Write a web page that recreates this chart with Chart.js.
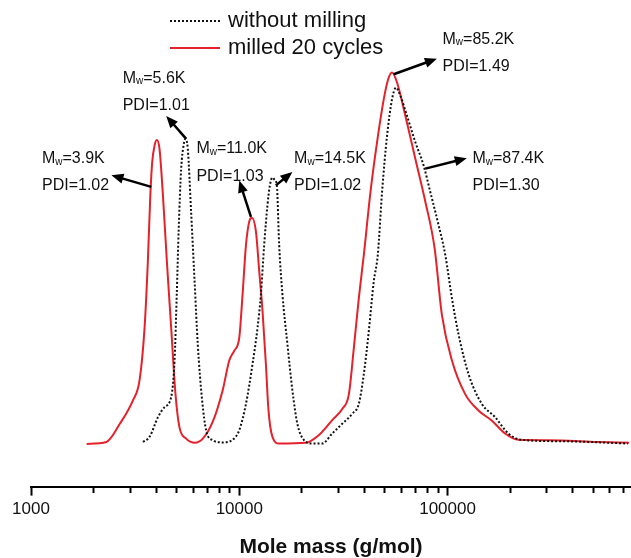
<!DOCTYPE html>
<html>
<head>
<meta charset="utf-8">
<script src="https://cdn.jsdelivr.net/npm/chart.js@4.4.1/dist/chart.umd.min.js"></script>
<style>
  html, body { margin: 0; padding: 0; background: #fff; }
</style>
</head>
<body>
<canvas id="chart" width="631" height="558"></canvas>
<script>
// GPC traces, mole mass (g/mol) vs normalised detector signal
const massMilled = [1850, 2300, 2670, 3090, 3320, 3510, 3640, 3740, 3820, 3920,
  4020, 4140, 4300, 4490, 4710, 4940, 5160, 5560, 6120, 6680,
  7450, 8320, 8960, 9470, 10000, 10370, 10770, 11170, 11500, 12020,
  12470, 12930, 13420, 13810, 14430, 15540, 20850, 24140, 27950, 31210,
  33600, 35500, 37510, 39630, 42670, 45890, 49410, 51820, 54140, 57220,
  62750, 70060, 78230, 86660, 93910, 104900, 121500, 140700, 162900, 188900,
  218700, 304200, 527800, 742800]
const signalMilled = [0.000, 0.005, 0.054, 0.118, 0.171, 0.313, 0.492, 0.669, 0.759, 0.803,
  0.818, 0.794, 0.669, 0.492, 0.313, 0.134, 0.045, 0.014, 0.003, 0.014,
  0.059, 0.144, 0.225, 0.251, 0.286, 0.402, 0.536, 0.599, 0.609, 0.572,
  0.465, 0.358, 0.215, 0.091, 0.019, 0.001, 0.003, 0.024, 0.064, 0.094,
  0.134, 0.259, 0.393, 0.509, 0.679, 0.813, 0.928, 0.981, 1.000, 0.973,
  0.883, 0.767, 0.652, 0.527, 0.348, 0.225, 0.134, 0.090, 0.063, 0.028,
  0.011, 0.010, 0.005, 0.003]

const massRaw = [3450, 3710, 4070, 4380, 4710, 4890, 5010, 5120, 5260, 5400,
  5520, 5660, 5870, 6090, 6320, 6630, 6930, 7450, 8320, 9290,
  10000, 10770, 11580, 12240, 12700, 13170, 13660, 14030, 14430, 14790,
  15150, 15540, 16120, 17030, 17990, 19010, 20460, 22420, 25040, 27950,
  31210, 34850, 37510, 39630, 41880, 44250, 46250, 48480, 51240, 54140,
  56560, 59380, 63880, 70060, 76790, 82640, 90560, 97500, 104900, 112900,
  126100, 145900, 169100, 195800, 226700, 365800, 734600]
const signalRaw = [0.005, 0.019, 0.072, 0.099, 0.126, 0.225, 0.402, 0.580, 0.741, 0.803,
  0.821, 0.794, 0.626, 0.447, 0.268, 0.118, 0.037, 0.010, 0.004, 0.011,
  0.037, 0.108, 0.215, 0.313, 0.402, 0.536, 0.643, 0.696, 0.717, 0.711,
  0.696, 0.536, 0.402, 0.268, 0.144, 0.054, 0.010, 0.001, 0.001, 0.028,
  0.054, 0.081, 0.108, 0.188, 0.304, 0.438, 0.509, 0.678, 0.830, 0.928,
  0.959, 0.937, 0.883, 0.812, 0.749, 0.678, 0.589, 0.509, 0.393, 0.295,
  0.188, 0.108, 0.072, 0.028, 0.011, 0.007, 0.001]

const seriesNames = ['without milling', 'milled 20 cycles']
const labelledTicks = [1000, 10000, 100000]

// peak notes: arrow tail/head and text anchor, in data units [mass, signal]
const peakNotes = [
  { mw: '3.9K',  pdi: '1.02', from: [3780, 0.692],  to: [2433, 0.723],   at: [1129, 0.767, 0.695] },
  { mw: '5.6K',  pdi: '1.01', from: [5559, 0.821],  to: [4461, 0.883],   at: [2755, 0.984, 0.912] },
  { mw: '11.0K', pdi: '1.03', from: [11376, 0.611], to: [10000, 0.709],  at: [6227, 0.794, 0.719] },
  { mw: '14.5K', pdi: '1.02', from: [14985, 0.696], to: [17990, 0.732],  at: [18335, 0.767, 0.695] },
  { mw: '85.2K', pdi: '1.49', from: [55150, 0.995], to: [88890, 1.037],  at: [94620, 1.088, 1.016] },
  { mw: '87.4K', pdi: '1.30', from: [78230, 0.741], to: [123700, 0.769], at: [131700, 0.767, 0.695] }
]

const FONT = '"Liberation Sans", Arial, sans-serif'
const RED = '#e3222b'
const BLACK = '#111'

const toPoints = (xs, ys) => xs.map((x, i) => ({ x, y: ys[i] }))

const isPow10 = v => Math.abs(Math.log10(v) - Math.round(Math.log10(v))) < 1e-9

function drawArrow(ctx, x1, y1, x2, y2) {
  const a = Math.atan2(y2 - y1, x2 - x1)
  const hl = 12, hw = 5
  ctx.save()
  ctx.strokeStyle = '#000'
  ctx.fillStyle = '#000'
  ctx.lineWidth = 2.5
  ctx.beginPath()
  ctx.moveTo(x1, y1)
  ctx.lineTo(x2 - hl * 0.7 * Math.cos(a), y2 - hl * 0.7 * Math.sin(a))
  ctx.stroke()
  ctx.beginPath()
  ctx.moveTo(x2, y2)
  ctx.lineTo(x2 - hl * Math.cos(a) + hw * Math.sin(a), y2 - hl * Math.sin(a) - hw * Math.cos(a))
  ctx.lineTo(x2 - hl * Math.cos(a) - hw * Math.sin(a), y2 - hl * Math.sin(a) + hw * Math.cos(a))
  ctx.closePath()
  ctx.fill()
  ctx.restore()
}

function drawMw(ctx, x, y, val) {
  ctx.font = '16px ' + FONT
  ctx.fillText('M', x, y)
  let w = ctx.measureText('M').width
  ctx.font = '10px ' + FONT
  ctx.fillText('w', x + w, y + 3)
  w += ctx.measureText('w').width
  ctx.font = '16px ' + FONT
  ctx.fillText('=' + val, x + w, y)
}

const notesPlugin = {
  id: 'notes',
  afterDatasetsDraw(chart) {
    const { ctx, scales: { x, y } } = chart
    ctx.save()
    ctx.fillStyle = '#111'
    ctx.textBaseline = 'middle'
    ctx.textAlign = 'left'
    peakNotes.forEach(n => {
      drawArrow(ctx,
        x.getPixelForValue(n.from[0]), y.getPixelForValue(n.from[1]),
        x.getPixelForValue(n.to[0]), y.getPixelForValue(n.to[1]))
      const tx = x.getPixelForValue(n.at[0])
      drawMw(ctx, tx, y.getPixelForValue(n.at[1]), n.mw)
      ctx.font = '16px ' + FONT
      ctx.fillText('PDI=' + n.pdi, tx, y.getPixelForValue(n.at[2]))
    })
    ctx.restore()
  }
}

const legendPlugin = {
  id: 'sampleLegend',
  afterDraw(chart) {
    const { ctx } = chart
    const items = chart.data.datasets
    ctx.save()
    items.forEach((ds, i) => {
      const yy = 21 + i * 27
      ctx.beginPath()
      ctx.strokeStyle = ds.borderColor
      ctx.lineWidth = 2
      ctx.setLineDash(ds.borderDash || [])
      ctx.moveTo(170, yy)
      ctx.lineTo(220, yy)
      ctx.stroke()
      ctx.setLineDash([])
      ctx.fillStyle = '#111'
      ctx.font = '22px ' + FONT
      ctx.textBaseline = 'middle'
      ctx.fillText(ds.label, 228, yy)
    })
    ctx.restore()
  }
}

new Chart(document.getElementById('chart'), {
  type: 'line',
  data: {
    datasets: [
      {
        label: seriesNames[0],
        data: toPoints(massRaw, signalRaw),
        borderColor: BLACK,
        borderWidth: 2,
        borderDash: [2, 2],
        pointRadius: 0,
        cubicInterpolationMode: 'monotone',
        fill: false
      },
      {
        label: seriesNames[1],
        data: toPoints(massMilled, signalMilled),
        borderColor: RED,
        borderWidth: 2,
        pointRadius: 0,
        cubicInterpolationMode: 'monotone',
        fill: false
      }
    ]
  },
  options: {
    responsive: false,
    devicePixelRatio: 1,
    animation: false,
    layout: { padding: { left: 31, right: 0, top: 0, bottom: 0 } },
    plugins: {
      legend: { display: false },
      tooltip: { enabled: false }
    },
    scales: {
      x: {
        type: 'logarithmic',
        min: 1000,
        max: 760000,
        afterBuildTicks(scale) {
          scale.ticks = scale.ticks.filter(t => {
            const m = t.value / Math.pow(10, Math.floor(Math.log10(t.value) + 1e-9))
            return Math.abs(m - Math.round(m)) < 1e-6
          })
        },
        border: { display: true, color: '#000', width: 2 },
        grid: {
          drawOnChartArea: false,
          drawTicks: true,
          tickLength: 9,
          tickWidth: 2,
          tickColor: '#000',
          tickBorderDash: ctx => (ctx.tick && isPow10(ctx.tick.value)) ? [] : [5, 30]
        },
        ticks: {
          autoSkip: false,
          maxRotation: 0,
          padding: 4,
          color: '#111',
          font: { family: FONT, size: 17 },
          callback: v => labelledTicks.includes(Math.round(v)) ? String(Math.round(v)) : ''
        },
        title: {
          display: true,
          text: 'Mole mass (g/mol)',
          color: '#111',
          font: { family: FONT, size: 21, weight: 'bold', lineHeight: 1 },
          padding: { top: 13, bottom: 0 }
        }
      },
      y: {
        display: false,
        min: -0.115,
        max: 1.195
      }
    }
  },
  plugins: [notesPlugin, legendPlugin]
})
</script>
</body>
</html>
